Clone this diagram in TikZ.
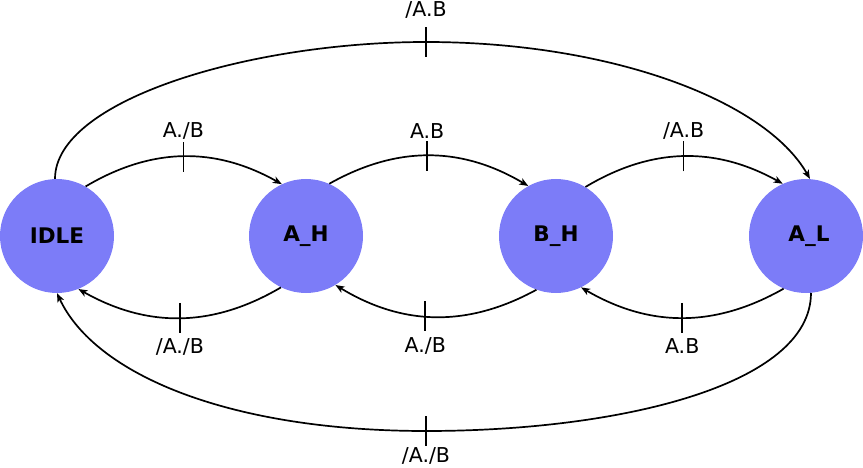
\documentclass[tikz,border=0pt]{standalone}
\usepackage{fontspec}
\setmainfont{DejaVu Sans}
\usetikzlibrary{arrows.meta}
\definecolor{statefill}{RGB}{124,124,248}
\tikzset{
  state/.style={circle, fill=statefill, draw=none, minimum size=114pt, inner sep=0pt,
    font=\fontsize{21.5}{24}\selectfont\bfseries},
  edge/.style={line width=1.7pt, -{Stealth[length=9pt,width=7pt,inset=2.5pt]}},
  plainedge/.style={line width=1.7pt},
  tickmark/.style={line width=1.7pt},
  lbl/.style={font=\fontsize{20.5}{24}\selectfont, inner sep=1pt},
}
\begin{document}
\begin{tikzpicture}[x=1pt,y=-1pt]
\useasboundingbox (0,0) rectangle (863,468);
\node[state] (IDLE) at (57,236) {IDLE};
\node[state] (AH) at (306,236) {A\_H};
\node[state] (BH) at (556,236) {B\_H};
\node[state] (AL) at (806,236) {\hspace{6pt}A\_L};

% top small arcs
\draw[edge] (IDLE.60) to[bend left=30] coordinate[pos=0.5] (t1) (AH.115);
\draw[edge] (AH.66) to[bend left=30] coordinate[pos=0.49] (t2) (BH.119);
\draw[edge] (BH.59) to[bend left=30] coordinate[pos=0.5] (t3) (AL.114);
% bottom small arcs
\draw[edge] (AH.-116) to[bend left=30] coordinate[pos=0.5] (b1) (IDLE.-68);
\draw[edge] (BH.-110) to[bend left=30] coordinate[pos=0.55] (b2) (AH.-59);
\draw[edge] (AL.-113) to[bend left=30] coordinate[pos=0.5] (b3) (BH.-64);
% big arcs
\coordinate (tt) at (426,42);
\coordinate (bb) at (426,431);
\draw[plainedge] (IDLE.92) .. controls (55,100) and (250,42) .. (tt);
\draw[edge] (tt) .. controls (610,42) and (765,100) .. (AL.86);
\draw[plainedge] (AL.-85) .. controls (811,385) and (620,431) .. (bb);
\draw[edge] (bb) .. controls (230,431) and (95,375) .. (IDLE.-90);

% ticks and labels (top)
\draw[tickmark] ([yshift=-15pt]t1) -- ([yshift=15pt]t1) node[lbl, anchor=south] (l1) {A./B};
\draw[tickmark] ([yshift=-15pt]t2) -- ([yshift=15pt]t2) node[lbl, anchor=south] (l2) {A.B};
\draw[tickmark] ([yshift=-15pt]t3) -- ([yshift=15pt]t3) node[lbl, anchor=south] (l3) {/A.B};
\draw[tickmark] ([yshift=-15pt]tt) -- ([yshift=15pt]tt) node[lbl, anchor=south, yshift=7pt] (l4) {/A.B};
% ticks and labels (bottom)
\draw[tickmark] ([yshift=15pt]b1) -- ([yshift=-15pt]b1) node[lbl, anchor=north, yshift=-4pt] (l5) {/A./B};
\draw[tickmark] ([yshift=15pt]b2) -- ([yshift=-15pt]b2) node[lbl, anchor=north, yshift=-4pt] (l6) {A./B};
\draw[tickmark] ([yshift=15pt]b3) -- ([yshift=-15pt]b3) node[lbl, anchor=north, yshift=-4pt] (l7) {A.B};
\draw[tickmark] ([yshift=15pt]bb) -- ([yshift=-15pt]bb) node[lbl, anchor=north] (l8) {/A./B};
\end{tikzpicture}
\end{document}
